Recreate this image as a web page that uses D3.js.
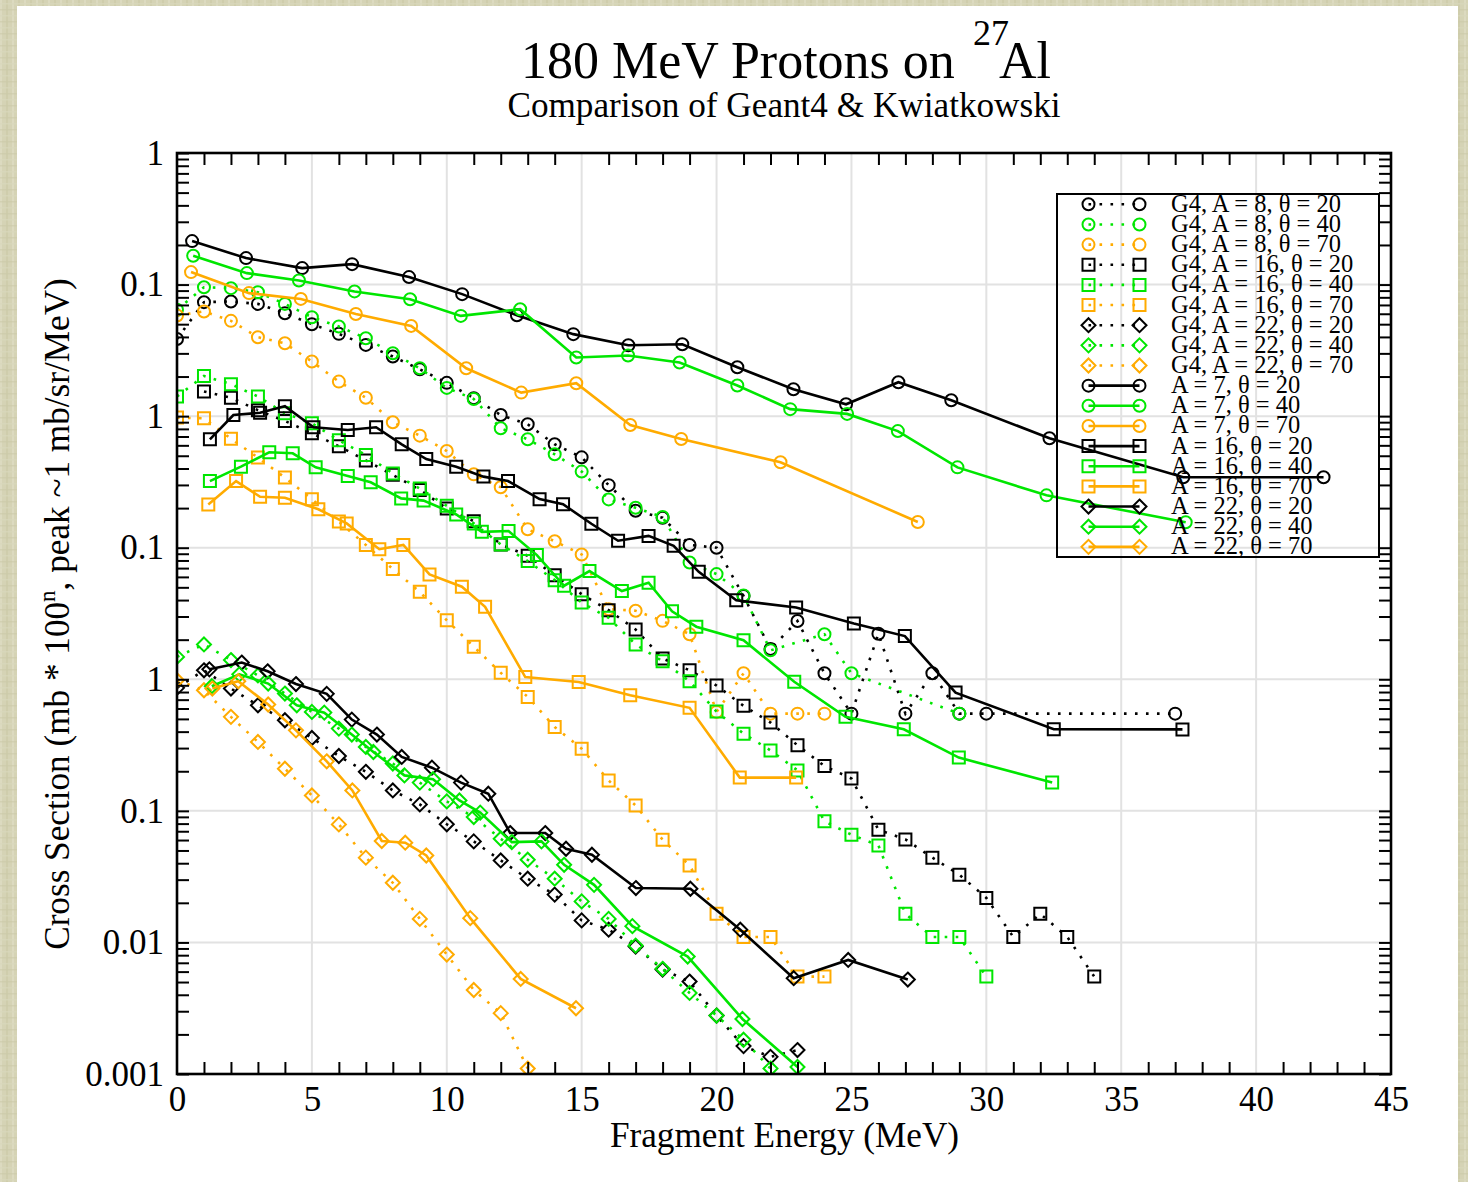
<!DOCTYPE html>
<html><head><meta charset="utf-8">
<script src="https://cdn.jsdelivr.net/npm/d3@7"></script>
<style>
html,body{margin:0;padding:0;background:#d5d3b4;}
svg{display:block;}
</style>
</head><body>
<svg id="chart" width="1468" height="1182"></svg>
<script>
// ---------------- DATA ----------------
const xTickValues = [0,5,10,15,20,25,30,35,40,45];
const yTickValues = [1e-3,1e-2,1e-1,1,10,100,1000,10000];
const yTickLabels = ["0.001","0.01","0.1","1","0.1","1","0.1","1"];

// Geant4 (dotted) series  [energy MeV, plotted value]
const g4A8t20 = [[0,386],[1,735],[2,744],[3,713],[4,606],[5,500],[6,422],[7,348],[8,284],[9,227],[10,179],[11,137],[12,102],[13,86.7],[14,61.1],[15,48.6],[16,29.9],[17,19.1],[18,16.9],[19,10.5],[20,10.0],[21,4.3],[22,1.7],[23,2.77],[24,1.11],[25,0.548],[26,2.22],[27,0.548],[28,1.11],[29,0.548],[30,0.548],[37,0.548]];
const g4A8t40 = [[0,643],[1,955],[2,939],[3,875],[4,713],[5,565],[6,480],[7,391],[8,301],[9,231],[10,164],[11,135],[12,80.9],[13,66.7],[14,51.3],[15,37.9],[16,23.3],[17,20.1],[18,17.1],[19,7.73],[20,6.30],[21,4.34],[22,1.66],[24,2.20],[25,1.11],[29,0.548]];
const g4A8t70 = [[0,582],[1,625],[2,530],[3,398],[4,358],[5,260],[6,183],[7,138],[8,89.8],[9,71.1],[10,54.3],[11,36.1],[12,28.8],[13,13.8],[14,11.2],[15,8.89],[16,3.41],[17,3.32],[18,2.78],[19,2.20],[20,0.565],[21,1.11],[22,0.548],[23,0.548],[24,0.548]];
const g4A16t20 = [[1,154],[2,138],[3,111],[4,91.9],[5,74.1],[6,59.0],[7,46.1],[8,35.8],[9,27.5],[10,19.9],[11,15.9],[12,10.6],[13,8.69],[14,6.18],[15,4.43],[16,3.35],[17,2.39],[18,1.44],[19,1.17],[20,0.896],[21,0.628],[22,0.469],[23,0.315],[24,0.219],[25,0.176],[26,0.0719],[27,0.0607],[28,0.0441],[29,0.0327],[30,0.0218],[31,0.0110],[32,0.0165],[33,0.0110],[34,0.0055]];
const g4A16t40 = [[0,141],[1,202],[2,175],[3,141],[4,105],[5,88.3],[6,65.5],[7,50.6],[8,36.7],[9,28.2],[10,20.8],[11,15.3],[12,10.6],[13,7.91],[14,5.67],[15,3.83],[16,2.93],[17,1.84],[18,1.37],[19,0.966],[20,0.568],[21,0.386],[22,0.288],[23,0.203],[24,0.0832],[25,0.0659],[26,0.0546],[27,0.0165],[28,0.0110],[29,0.0110],[30,0.0055]];
const g4A16t70 = [[0,97.5],[1,96.3],[2,67.3],[3,48.4],[4,34.1],[5,23.4],[6,15.8],[7,10.5],[8,6.88],[9,4.62],[10,2.81],[11,1.77],[12,1.12],[13,0.735],[14,0.434],[15,0.297],[16,0.170],[17,0.110],[18,0.0604],[19,0.0385],[20,0.0165],[21,0.0110],[22,0.0110],[23,0.0055],[24,0.0055]];
const g4A22t20 = [[0,0.861],[1,1.17],[2,0.850],[3,0.634],[4,0.488],[5,0.358],[6,0.261],[7,0.198],[8,0.143],[9,0.112],[10,0.0791],[11,0.0586],[12,0.0420],[13,0.0305],[14,0.0231],[15,0.0147],[16,0.0125],[17,0.0093],[18,0.00622],[19,0.00504],[20,0.00278],[21,0.00163],[22,0.00135],[23,0.00152]];
const g4A22t40 = [[0,1.48],[1,1.84],[2,1.40],[3,1.07],[4,0.779],[5,0.565],[6,0.422],[7,0.306],[8,0.229],[9,0.164],[10,0.118],[11,0.0897],[12,0.0614],[13,0.0425],[14,0.0305],[15,0.0205],[16,0.0151],[17,0.00946],[18,0.0063],[19,0.00413],[20,0.00278],[21,0.00182],[22,0.0011]];
const g4A22t70 = [[0,0.983],[1,0.825],[2,0.518],[3,0.334],[4,0.209],[5,0.131],[6,0.0789],[7,0.0441],[8,0.0284],[9,0.0151],[10,0.00809],[11,0.00435],[12,0.0029],[13,0.0011]];

// Kwiatkowski (solid) series
const kA7t20 = [[0.56,2140],[2.56,1589],[4.64,1334],[6.49,1430],[8.6,1140],[10.57,846],[12.6,585],[14.69,420],[16.73,346],[18.73,352],[20.77,235],[22.85,160],[24.8,123],[26.74,181],[28.7,132],[32.34,68],[37.3,34.3],[42.5,34.3]];
const kA7t40 = [[0.6,1655],[2.59,1222],[4.52,1075],[6.58,887],[8.64,774],[10.52,578],[12.72,650],[14.8,279],[16.72,289],[18.63,256],[20.77,171],[22.73,113],[24.84,104],[26.72,77],[28.93,40.8],[32.23,25.0],[37.39,15.6]];
const kA7t70 = [[0.52,1244],[2.67,861],[4.59,778],[6.63,598],[8.68,485],[10.72,231],[12.76,151],[14.8,178],[16.8,85.7],[18.69,67.1],[22.37,44.6],[27.46,15.7]];
const kA16t20 = [[1.22,66.6],[2.09,102],[3.08,106],[4.0,119],[5.06,82.3],[6.33,78.5],[7.38,82.3],[8.33,61.1],[9.24,47.2],[10.35,41.3],[11.36,34.7],[12.27,32.1],[13.44,23.4],[14.31,21.4],[15.36,15.2],[16.35,11.3],[17.48,12.3],[18.41,10.35],[19.34,6.56],[20.73,3.99],[22.95,3.51],[25.09,2.65],[26.98,2.13],[28.86,0.792],[32.5,0.417],[37.27,0.416]];
const kA16t40 = [[1.22,32.1],[2.37,41.3],[3.42,53.1],[4.29,52.2],[5.14,40.8],[6.33,35.1],[7.18,31.4],[8.31,23.7],[9.14,22.8],[10.35,17.9],[11.3,13.2],[12.29,13.4],[13.34,8.79],[14.35,5.14],[15.29,6.64],[16.49,4.68],[17.48,5.42],[18.35,3.29],[19.25,2.51],[21.0,1.98],[22.88,0.957],[24.78,0.518],[26.94,0.417],[28.98,0.254],[32.44,0.164]];
const kA16t70 = [[1.16,21.3],[2.19,32.1],[3.08,24.4],[4.0,24.0],[5.24,19.6],[6.29,15.3],[7.5,9.75],[8.39,10.5],[9.36,6.26],[10.56,5.05],[11.42,3.56],[12.91,1.04],[14.89,0.955],[16.8,0.755],[19.0,0.607],[20.86,0.179],[22.95,0.179]];
const kA22t20 = [[1.2,1.19],[2.4,1.34],[3.36,1.15],[4.41,0.92],[5.55,0.775],[6.48,0.494],[7.41,0.38],[8.33,0.257],[9.45,0.213],[10.53,0.164],[11.54,0.135],[12.35,0.0678],[13.65,0.0678],[14.42,0.0515],[15.38,0.0464],[17.01,0.0259],[19.03,0.0256],[20.88,0.0125],[22.86,0.00535],[24.88,0.00736],[27.09,0.00522]];
const kA22t40 = [[1.29,0.886],[2.31,1.09],[3.38,0.928],[4.44,0.634],[5.46,0.558],[6.48,0.38],[7.28,0.28],[8.43,0.186],[9.49,0.174],[10.47,0.12],[11.24,0.0969],[12.41,0.0579],[13.51,0.0586],[14.35,0.0389],[15.46,0.0274],[16.88,0.0133],[18.93,0.00781],[20.96,0.00262],[23.0,0.00113]];
const kA22t70 = [[1.31,0.85],[2.27,0.966],[3.38,0.643],[4.41,0.409],[5.55,0.238],[6.5,0.143],[7.59,0.059],[8.46,0.0573],[9.24,0.0458],[10.87,0.0153],[12.74,0.00528],[14.79,0.00316]];

const legendLabels = [
  "G4, A = 8, θ = 20","G4, A = 8, θ = 40","G4, A = 8, θ = 70",
  "G4, A = 16, θ = 20","G4, A = 16, θ = 40","G4, A = 16, θ = 70",
  "G4, A = 22, θ = 20","G4, A = 22, θ = 40","G4, A = 22, θ = 70",
  "A = 7, θ = 20","A = 7, θ = 40","A = 7, θ = 70",
  "A = 16, θ = 20","A = 16, θ = 40","A = 16, θ = 70",
  "A = 22, θ = 20","A = 22, θ = 40","A = 22, θ = 70"];

// ---------------- STYLE ----------------
const BLACK = "#000000", GREEN = "#00e600", ORANGE = "#ffab00";
const series = [
  {d:g4A8t20, c:BLACK, s:"circle", dot:true},
  {d:g4A8t40, c:GREEN, s:"circle", dot:true},
  {d:g4A8t70, c:ORANGE, s:"circle", dot:true},
  {d:g4A16t20, c:BLACK, s:"square", dot:true},
  {d:g4A16t40, c:GREEN, s:"square", dot:true},
  {d:g4A16t70, c:ORANGE, s:"square", dot:true},
  {d:g4A22t20, c:BLACK, s:"diamond", dot:true},
  {d:g4A22t40, c:GREEN, s:"diamond", dot:true},
  {d:g4A22t70, c:ORANGE, s:"diamond", dot:true},
  {d:kA7t20, c:BLACK, s:"circle", dot:false},
  {d:kA7t40, c:GREEN, s:"circle", dot:false},
  {d:kA7t70, c:ORANGE, s:"circle", dot:false},
  {d:kA16t20, c:BLACK, s:"square", dot:false},
  {d:kA16t40, c:GREEN, s:"square", dot:false},
  {d:kA16t70, c:ORANGE, s:"square", dot:false},
  {d:kA22t20, c:BLACK, s:"diamond", dot:false},
  {d:kA22t40, c:GREEN, s:"diamond", dot:false},
  {d:kA22t70, c:ORANGE, s:"diamond", dot:false}
];
series.forEach((s,i)=>s.label = legendLabels[i]);

const FONT = "'Liberation Serif','Times New Roman',serif";
const W = 1468, H = 1182;
const L = 177, R = 1391, T = 153, B = 1074;

const svg = d3.select("#chart");

// page background (linen-like) and white panel
const defs = svg.append("defs");
const pat = defs.append("pattern").attr("id","linen").attr("patternUnits","userSpaceOnUse")
  .attr("width",12).attr("height",12);
pat.append("rect").attr("width",12).attr("height",12).attr("fill","#d5d3b5");
pat.append("rect").attr("x",0).attr("y",0).attr("width",2).attr("height",12).attr("fill","#dcdac0");
pat.append("rect").attr("x",6).attr("y",0).attr("width",2).attr("height",12).attr("fill","#cfcdac");
pat.append("rect").attr("x",0).attr("y",3).attr("width",12).attr("height",1.5).attr("fill","#d9d7bc").attr("opacity",0.7);
pat.append("rect").attr("x",0).attr("y",9).attr("width",12).attr("height",1.5).attr("fill","#cccaa9").attr("opacity",0.6);
svg.append("rect").attr("x",0).attr("y",0).attr("width",W).attr("height",H).attr("fill","url(#linen)");
svg.append("rect").attr("x",17).attr("y",6).attr("width",1441).attr("height",H-6).attr("fill","#ffffff");

const x = d3.scaleLinear().domain([0,45]).range([L,R]);
const y = d3.scaleLog().domain([1e-3,1e4]).range([B,T]);

// grid
const grid = svg.append("g");
grid.selectAll("line.vx").data(xTickValues.filter(v=>v>0 && v<45)).join("line")
  .attr("x1",d=>x(d)).attr("x2",d=>x(d)).attr("y1",T).attr("y2",B)
  .attr("stroke","#e2e2e2").attr("stroke-width",2);
grid.selectAll("line.hy").data(yTickValues.slice(1,-1)).join("line")
  .attr("x1",L).attr("x2",R).attr("y1",d=>y(d)).attr("y2",d=>y(d))
  .attr("stroke","#e2e2e2").attr("stroke-width",2);

// symbols
const diamondType = {draw(ctx,size){const r=Math.sqrt(size/2);ctx.moveTo(0,-r);ctx.lineTo(r,0);ctx.lineTo(0,r);ctx.lineTo(-r,0);ctx.closePath();}};
const symPath = {
  circle: d3.symbol().type(d3.symbolCircle).size(Math.PI*36)(),
  square: d3.symbol().type(d3.symbolSquare).size(144)(),
  diamond: d3.symbol().type(diamondType).size(2*7*7)()
};

defs.append("clipPath").attr("id","plotclip").append("rect")
  .attr("x",L).attr("y",T).attr("width",R-L).attr("height",B-T);

const plot = svg.append("g").attr("clip-path","url(#plotclip)");
const line = d3.line().x(d=>x(d[0])).y(d=>y(d[1]));

series.forEach(s=>{
  const g = plot.append("g");
  g.append("path").attr("d",line(s.d)).attr("fill","none").attr("stroke",s.c)
    .attr("stroke-width",2.6)
    .attr("stroke-dasharray", s.dot?"2.6,8.4":null);
  g.selectAll("path.m").data(s.d).join("path")
    .attr("d",symPath[s.s]).attr("transform",d=>`translate(${x(d[0])},${y(d[1])})`)
    .attr("fill","none").attr("stroke",s.c).attr("stroke-width",2);
});

// axes
const tickStyle = g=>{g.select(".domain").remove(); g.selectAll(".tick line").attr("stroke","#000").attr("stroke-width",2);};
const minorX = d3.range(1,45).filter(v=>v%5!==0);
const minorY = [];
for(let e=-3;e<4;e++) for(let m=2;m<10;m++) minorY.push(m*Math.pow(10,e));

const xAxis = d3.axisBottom(x).tickValues(xTickValues).tickSize(0).tickPadding(12).tickFormat(d3.format("d"));
const gx = svg.append("g").attr("transform",`translate(0,${B})`).call(xAxis);
gx.select(".domain").remove();
gx.selectAll("text").attr("font-family",FONT).attr("font-size",35).attr("fill","#000");

svg.append("g").attr("transform",`translate(0,${B})`).call(d3.axisBottom(x).tickValues(minorX).tickSize(-12).tickFormat("")).call(tickStyle);
svg.append("g").attr("transform",`translate(0,${T})`).call(d3.axisTop(x).tickValues(minorX).tickSize(-12).tickFormat("")).call(tickStyle);

const yAxis = d3.axisLeft(y).tickValues(yTickValues).tickSize(-12).tickPadding(13)
  .tickFormat((d,i)=>yTickLabels[i]);
const gy = svg.append("g").attr("transform",`translate(${L},0)`).call(yAxis).call(tickStyle);
gy.selectAll("text").attr("font-family",FONT).attr("font-size",35).attr("fill","#000");
svg.append("g").attr("transform",`translate(${L},0)`).call(d3.axisLeft(y).tickValues(minorY).tickSize(-12).tickFormat("")).call(tickStyle);
svg.append("g").attr("transform",`translate(${R},0)`).call(d3.axisRight(y).tickValues(yTickValues.concat(minorY)).tickSize(-12).tickFormat("")).call(tickStyle);

// frame
svg.append("rect").attr("x",L).attr("y",T).attr("width",R-L).attr("height",B-T)
  .attr("fill","none").attr("stroke","#000").attr("stroke-width",2.6);

// titles
svg.append("text").attr("x",521).attr("y",78)
  .attr("font-family",FONT).attr("font-size",52).attr("fill","#000").text("180 MeV Protons on");
svg.append("text").attr("x",973).attr("y",45)
  .attr("font-family",FONT).attr("font-size",36).attr("fill","#000").text("27");
svg.append("text").attr("x",999).attr("y",78)
  .attr("font-family",FONT).attr("font-size",52).attr("fill","#000").text("Al");

svg.append("text").attr("x",784).attr("y",117).attr("text-anchor","middle")
  .attr("font-family",FONT).attr("font-size",35.2).attr("fill","#000")
  .text("Comparison of Geant4 & Kwiatkowski");

svg.append("text").attr("x",784.5).attr("y",1147).attr("text-anchor","middle")
  .attr("font-family",FONT).attr("font-size",35.2).attr("fill","#000")
  .text("Fragment Energy (MeV)");

const yl = svg.append("text").attr("transform","translate(69,614) rotate(-90)").attr("text-anchor","middle")
  .attr("font-family",FONT).attr("font-size",35.2).attr("fill","#000");
yl.append("tspan").text("Cross Section (mb * 100");
yl.append("tspan").attr("font-size",23).attr("dy",-14).text("n");
yl.append("tspan").attr("dy",14).text(", peak ~1 mb/sr/MeV)");

// legend
const lg = svg.append("g");
lg.append("rect").attr("x",1057).attr("y",194).attr("width",322).attr("height",363)
  .attr("fill","none").attr("stroke","#000").attr("stroke-width",2);
series.forEach((s,i)=>{
  const cy = 204.3 + i*20.15;
  const x1 = 1088.5, x2 = 1139.5;
  lg.append("line").attr("x1",x1).attr("x2",x2).attr("y1",cy).attr("y2",cy)
    .attr("stroke",s.c).attr("stroke-width",2.6).attr("stroke-dasharray",s.dot?"2.6,8.4":null);
  [x1,x2].forEach(px=>lg.append("path").attr("d",symPath[s.s]).attr("transform",`translate(${px},${cy})`)
    .attr("fill","none").attr("stroke",s.c).attr("stroke-width",2));
  lg.append("text").attr("x",1171).attr("y",cy+7.5).attr("font-family",FONT).attr("font-size",24.5)
    .attr("fill","#000").text(s.label);
});
</script>
</body></html>
